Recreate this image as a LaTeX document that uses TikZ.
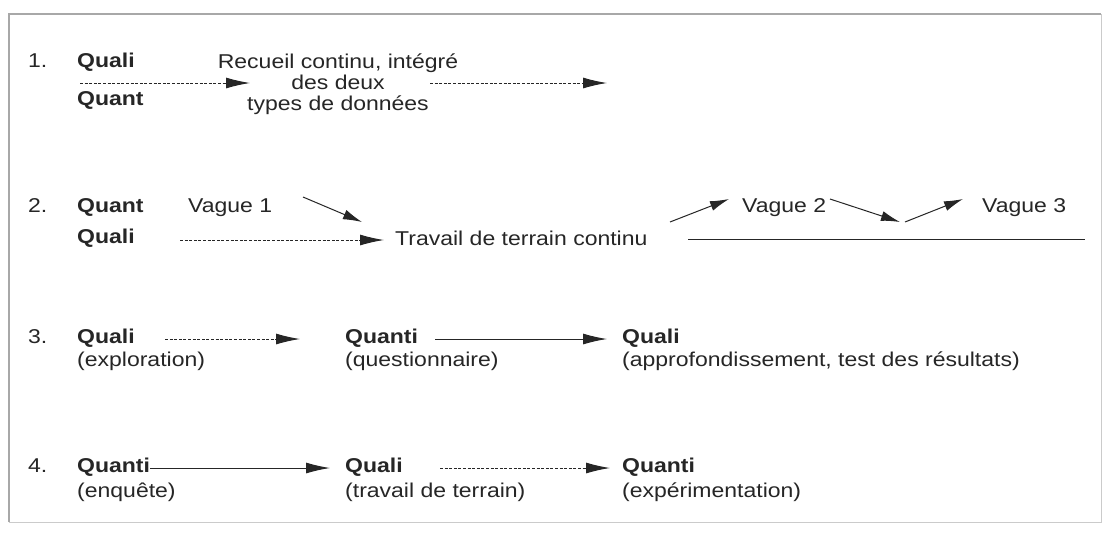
\documentclass[tikz,border=0pt]{standalone}
\usepackage{fontspec}
\setmainfont{Liberation Sans}[FakeStretch=1.15]
\usetikzlibrary{arrows.meta}
\definecolor{ink}{HTML}{262626}
\definecolor{frame}{HTML}{A8A8A8}
\begin{document}
\begin{tikzpicture}[x=1pt,y=-1pt,
  txt/.style={anchor=base west,inner sep=0pt,text=ink,font=\fontsize{20}{21}\selectfont},
  bld/.style={txt,font=\fontsize{20}{21}\selectfont\bfseries},
  conn/.style={draw=ink,line width=1pt,-{Latex[length=24pt,width=11pt]}},
  dconn/.style={conn,dash pattern=on 3pt off 1.6pt},
  diag/.style={draw=ink,line width=1pt,-{Latex[length=19pt,width=10pt]}}]
\useasboundingbox (0,0) rectangle (1109,536);
\fill[white] (0,0) rectangle (1109,536);
% frame
\draw[frame,line width=2.5pt] (9,522) -- (9,14) -- (1101,14);
\draw[frame!60,line width=1pt] (1101,14) -- (1101,522) -- (9,522);

% Row 1
\node[txt] (n1) at (28,67) {1.};
\node[bld] (q1a) at (77,67) {Quali};
\node[bld] (q1b) at (77,105) {Quant};
\node[inner sep=0pt,text=ink,align=center,font=\fontsize{20}{21}\selectfont] (rec) at (338,84)
  {Recueil continu, intégré\\des deux\\types de données};
\coordinate (a1s) at (80,83);
\coordinate (a1e) at (250,83);
\coordinate (a2s) at (430,83);
\coordinate (a2e) at (607,83);
\draw[dconn] (a1s) -- (a1e);
\draw[dconn] (a2s) -- (a2e);

% Row 2
\node[txt] (n2) at (28,212) {2.};
\node[bld] (q2a) at (77,212) {Quant};
\node[bld] (q2b) at (77,243) {Quali};
\node[txt] (v1) at (188,212) {Vague 1};
\node[txt] (trav) at (395,245) {Travail de terrain continu};
\node[txt] (v2) at (742,212) {Vague 2};
\node[txt] (v3) at (982,212) {Vague 3};
\coordinate (b1s) at (303,197);
\coordinate (b1e) at (362,222);
\coordinate (b2s) at (180,240);
\coordinate (b2e) at (384,240);
\coordinate (b3s) at (670,222);
\coordinate (b3e) at (729,199);
\coordinate (b4s) at (830,199);
\coordinate (b4e) at (900,222);
\coordinate (b5s) at (905,222);
\coordinate (b5e) at (963,199);
\coordinate (b6s) at (688,239);
\coordinate (b6e) at (1085,239);
\draw[diag] (b1s) -- (b1e);
\draw[dconn] (b2s) -- (b2e);
\draw[diag] (b3s) -- (b3e);
\draw[diag] (b4s) -- (b4e);
\draw[diag] (b5s) -- (b5e);
\draw[draw=ink,line width=1pt] (b6s) -- (b6e);

% Row 3
\node[txt] (n3) at (28,343) {3.};
\node[bld] (q3a) at (77,343) {Quali};
\node[txt] (e3a) at (77,366) {(exploration)};
\node[bld] (q3b) at (345,343) {Quanti};
\node[txt] (e3b) at (345,366) {(questionnaire)};
\node[bld] (q3c) at (622,343) {Quali};
\node[txt] (e3c) at (622,366) {(approfondissement, test des résultats)};
\coordinate (c1s) at (165,339);
\coordinate (c1e) at (300,339);
\coordinate (c2s) at (435,339);
\coordinate (c2e) at (607,339);
\draw[dconn] (c1s) -- (c1e);
\draw[conn] (c2s) -- (c2e);

% Row 4
\node[txt] (n4) at (28,472) {4.};
\node[bld] (q4a) at (77,472) {Quanti};
\node[txt] (e4a) at (77,497) {(enquête)};
\node[bld] (q4b) at (345,472) {Quali};
\node[txt] (e4b) at (345,497) {(travail de terrain)};
\node[bld] (q4c) at (622,472) {Quanti};
\node[txt] (e4c) at (622,497) {(expérimentation)};
\coordinate (d1s) at (150,468);
\coordinate (d1e) at (330,468);
\coordinate (d2s) at (440,468);
\coordinate (d2e) at (610,468);
\draw[conn] (d1s) -- (d1e);
\draw[dconn] (d2s) -- (d2e);
\end{tikzpicture}
\end{document}
